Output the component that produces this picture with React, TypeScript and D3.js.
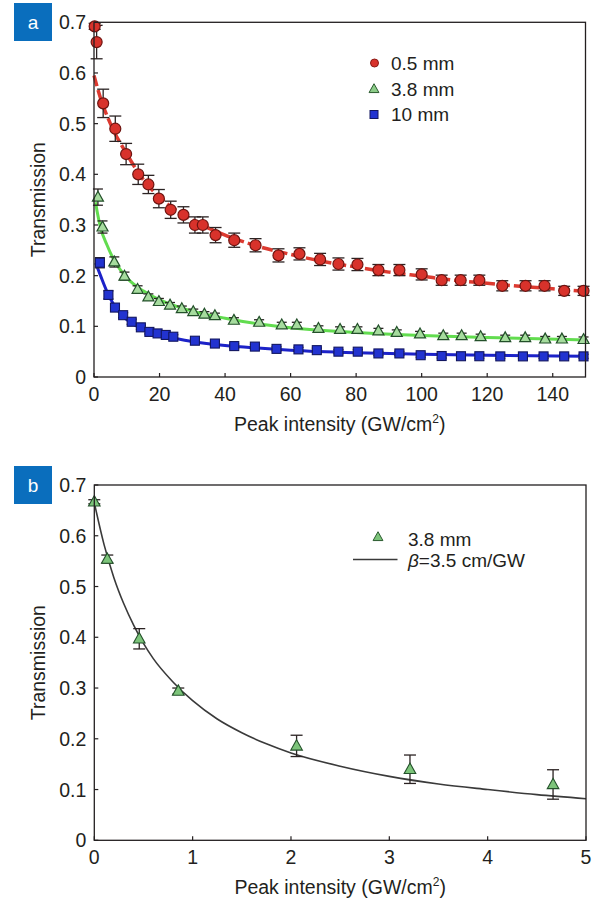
import React from "react";
import * as d3 from "d3";

// ---- Panel a: transmission vs. peak intensity for three sample lengths ----
const redX = [0.2, 0.8, 2.8, 6.5, 9.8, 13.5, 16.6, 19.8, 23.4, 27.3, 30.8, 33.2, 37.1, 42.8, 49.3, 56.3, 62.7, 69, 74.6, 80.4, 86.8, 93.2, 100, 106.1, 111.9, 117.6, 124.6, 131.7, 137.5, 143.5, 149.4];
const redY = [0.692, 0.661, 0.54, 0.49, 0.44, 0.4, 0.38, 0.352, 0.33, 0.32, 0.3, 0.3, 0.28, 0.27, 0.26, 0.24, 0.243, 0.232, 0.223, 0.222, 0.211, 0.211, 0.2025, 0.191, 0.191, 0.191, 0.18, 0.18, 0.18, 0.17, 0.17];
const redErr = [0.006, 0.033, 0.028, 0.025, 0.021, 0.02, 0.018, 0.018, 0.017, 0.016, 0.016, 0.016, 0.015, 0.014, 0.013, 0.013, 0.012, 0.012, 0.012, 0.012, 0.011, 0.011, 0.011, 0.01, 0.01, 0.01, 0.01, 0.01, 0.01, 0.009, 0.009];

const greenX = [1.2, 2.6, 6.2, 9.3, 13.3, 16.6, 19.8, 23.2, 26.8, 30.3, 33.7, 36.9, 42.7, 50.4, 57.3, 61.9, 68.5, 75.1, 80.4, 86.8, 92.4, 99.5, 106.6, 112.2, 118, 125.5, 131.6, 137.7, 142.8, 149.4];
const greenY = [0.355, 0.296, 0.227, 0.199, 0.173, 0.158, 0.149, 0.142, 0.135, 0.129, 0.124, 0.121, 0.112, 0.108, 0.103, 0.103, 0.096, 0.094, 0.094, 0.091, 0.088, 0.085, 0.0815, 0.0815, 0.0795, 0.0775, 0.0775, 0.075, 0.075, 0.074];
const greenErr = [0.016, 0.012, 0.01, 0.008, 0.007, 0.006, 0.006, 0.005, 0.005, 0.005, 0.005, 0.005, 0.005, 0.005, 0.005, 0.005, 0.005, 0.005, 0.005, 0.005, 0.005, 0.005, 0.005, 0.005, 0.005, 0.005, 0.005, 0.005, 0.005, 0.005];

const blueX = [1.8, 4.4, 6.4, 8.9, 11.5, 14.3, 16.9, 19.4, 21.9, 24.2, 30.8, 36.9, 42.8, 49.1, 55.7, 62.4, 68, 74.6, 80.5, 86.8, 93.2, 99.7, 106.1, 112, 117.6, 124, 130.9, 137.2, 143.5, 149.4];
const blueY = [0.2255, 0.162, 0.137, 0.122, 0.109, 0.098, 0.089, 0.086, 0.083, 0.0795, 0.0716, 0.066, 0.061, 0.06, 0.0555, 0.0545, 0.053, 0.05, 0.05, 0.0465, 0.0465, 0.043, 0.0414, 0.041, 0.041, 0.0407, 0.0407, 0.0407, 0.0407, 0.0407];
const blueErr = [0.01, 0.008, 0.006, 0.005, 0.005, 0.004, 0.004, 0.004, 0.004, 0.004, 0.004, 0.004, 0.004, 0.004, 0.004, 0.004, 0.004, 0.004, 0.004, 0.004, 0.004, 0.004, 0.004, 0.004, 0.004, 0.004, 0.004, 0.004, 0.004, 0.004];

// fitted curves (panel a)
const redFitX = [0, 2, 5, 10, 15, 20, 30, 40, 50, 60, 70, 80, 90, 100, 110, 120, 130, 140, 150];
const redFitY = [0.595, 0.55, 0.5, 0.44, 0.39, 0.355, 0.31, 0.28, 0.258, 0.242, 0.228, 0.217, 0.207, 0.199, 0.191, 0.185, 0.179, 0.174, 0.169];
const greenFitX = [0.5, 1, 2, 4, 6, 8, 10, 15, 20, 25, 30, 40, 50, 60, 80, 100, 120, 150];
const greenFitY = [0.345, 0.325, 0.295, 0.26, 0.232, 0.212, 0.196, 0.17, 0.152, 0.14, 0.13, 0.116, 0.105, 0.097, 0.088, 0.082, 0.078, 0.073];
const blueFitX = [0.5, 2, 4, 6, 8, 10, 15, 20, 25, 30, 40, 50, 60, 80, 100, 120, 150];
const blueFitY = [0.225, 0.2, 0.168, 0.143, 0.126, 0.113, 0.094, 0.083, 0.076, 0.07, 0.062, 0.057, 0.053, 0.048, 0.045, 0.043, 0.041];

// ---- Panel b: 3.8 mm sample at low intensity with fit ----
const bX = [0, 0.132, 0.457, 0.854, 2.057, 3.21, 4.665];
const bY = [0.667, 0.554, 0.397, 0.294, 0.186, 0.14, 0.11];
const bErr = [0.004, 0.008, 0.02, 0.006, 0.021, 0.028, 0.029];
const bFitX = [0, 0.1, 0.2, 0.3, 0.4, 0.5, 0.6, 0.8, 1, 1.25, 1.5, 1.75, 2, 2.5, 3, 3.5, 4, 4.5, 5];
const bFitY = [0.665, 0.582, 0.517, 0.466, 0.424, 0.388, 0.358, 0.312, 0.275, 0.239, 0.212, 0.19, 0.172, 0.146, 0.126, 0.111, 0.1, 0.09, 0.082];

const yTicks = [0, 0.1, 0.2, 0.3, 0.4, 0.5, 0.6, 0.7];
const aXTicks = [0, 20, 40, 60, 80, 100, 120, 140];
const bXTicks = [0, 1, 2, 3, 4, 5];

const FONT = "'Liberation Sans', Arial, Helvetica, sans-serif";
const INK = "#231f20";
const BADGE = "#0a6ebd";
const TICK_FS = 19.5;
const TITLE_FS = 19.5;
const LEGEND_FS = 19;

type Pt = { x: number; y: number; e: number };
const zip = (xs: number[], ys: number[], es: number[]): Pt[] => xs.map((x, i) => ({ x, y: ys[i], e: es[i] }));

function Frame({ x, y, xTicks, title }: { x: d3.ScaleLinear<number, number>; y: d3.ScaleLinear<number, number>; xTicks: number[]; title: string }) {
  const [x0, x1] = x.range();
  const [y0, y1] = y.range();
  return (
    <g fontFamily={FONT} fill={INK}>
      <rect x={x0} y={y1} width={x1 - x0} height={y0 - y1} fill="none" stroke={INK} strokeWidth={1.3} />
      {yTicks.map((t) => (
        <g key={"y" + t}>
          <line x1={x0} x2={x0 + 4} y1={y(t)} y2={y(t)} stroke={INK} strokeWidth={1.2} />
          <text x={x0 - 8} y={y(t)} dy="0.36em" textAnchor="end" fontSize={TICK_FS}>
            {t === 0 ? "0" : d3.format(".1f")(t)}
          </text>
        </g>
      ))}
      {xTicks.map((t) => (
        <g key={"x" + t}>
          <line x1={x(t)} x2={x(t)} y1={y0} y2={y0 - 4} stroke={INK} strokeWidth={1.2} />
          <text x={x(t)} y={y0 + 23.5} textAnchor="middle" fontSize={TICK_FS}>
            {t}
          </text>
        </g>
      ))}
      <text x={(x0 + x1) / 2} y={y0 + 53.5} textAnchor="middle" fontSize={TITLE_FS}>
        {title}
        <tspan dy={-7.5} fontSize={12}>2</tspan>
        <tspan dy={7.5}>)</tspan>
      </text>
      <text transform={`translate(45,${(y0 + y1) / 2}) rotate(-90)`} textAnchor="middle" fontSize={TITLE_FS}>
        Transmission
      </text>
    </g>
  );
}

function ErrBars({ pts, x, y, cap = 6 }: { pts: Pt[]; x: d3.ScaleLinear<number, number>; y: d3.ScaleLinear<number, number>; cap?: number }) {
  return (
    <g stroke="#2b2323" strokeWidth={1.3}>
      {pts.map((p, i) => {
        const cx = x(p.x);
        const top = y(p.y + p.e);
        const bot = y(p.y - p.e);
        return (
          <g key={i}>
            <line x1={cx} x2={cx} y1={top} y2={bot} />
            <line x1={cx - cap} x2={cx + cap} y1={top} y2={top} />
            <line x1={cx - cap} x2={cx + cap} y1={bot} y2={bot} />
          </g>
        );
      })}
    </g>
  );
}

const triPath = (s: number) => `M0,${-s * 0.62}L${s * 0.58},${s * 0.42}L${-s * 0.58},${s * 0.42}Z`;

function Badge({ label, y }: { label: string; y: number }) {
  return (
    <g>
      <rect x={14} y={y} width={38} height={38} fill={BADGE} />
      <text x={33} y={y + 19} dy="0.35em" textAnchor="middle" fill="#fff" fontSize={19} fontFamily={FONT}>
        {label}
      </text>
    </g>
  );
}

export default function App() {
  // Panel a scales
  const xa = d3.scaleLinear().domain([0, 150]).range([94, 585.5]);
  const ya = d3.scaleLinear().domain([0, 0.7]).range([377, 22.3]);
  // Panel b scales
  const xb = d3.scaleLinear().domain([0, 5]).range([94.3, 586]);
  const yb = d3.scaleLinear().domain([0, 0.7]).range([840.3, 485]);

  const lineA = d3
    .line<[number, number]>()
    .x((d) => xa(d[0]))
    .y((d) => ya(d[1]))
    .curve(d3.curveMonotoneX);
  const lineB = d3
    .line<[number, number]>()
    .x((d) => xb(d[0]))
    .y((d) => yb(d[1]))
    .curve(d3.curveMonotoneX);

  const redPts = zip(redX, redY, redErr);
  const greenPts = zip(greenX, greenY, greenErr);
  const bluePts = zip(blueX, blueY, blueErr);
  const bPts = zip(bX, bY, bErr);

  const pairs = (xs: number[], ys: number[]) => xs.map((v, i) => [v, ys[i]] as [number, number]);

  return (
    <svg width={593} height={899} style={{ position: "absolute", left: 0, top: 0, background: "#fff" }}>
      <rect width={593} height={899} fill="#fff" />

      {/* ---------- Panel a ---------- */}
      <Badge label="a" y={3} />
      <path d={lineA(pairs(greenFitX, greenFitY)) ?? ""} fill="none" stroke="#62dc4f" strokeWidth={3} />
      <path d={lineA(pairs(blueFitX, blueFitY)) ?? ""} fill="none" stroke="#1c22c8" strokeWidth={3} />
      <path d={lineA(pairs(redFitX, redFitY)) ?? ""} fill="none" stroke="#dc3a30" strokeWidth={3.5} strokeDasharray="11 4" />

      <ErrBars pts={redPts} x={xa} y={ya} />
      <ErrBars pts={greenPts} x={xa} y={ya} cap={5} />
      <ErrBars pts={bluePts} x={xa} y={ya} cap={5} />

      {redPts.map((p, i) => (
        <circle key={"r" + i} cx={xa(p.x)} cy={ya(p.y)} r={5.5} fill="#d8322b" stroke="#6e1410" strokeWidth={1.2} />
      ))}
      {greenPts.map((p, i) => (
        <path key={"g" + i} d={triPath(9.5)} transform={`translate(${xa(p.x)},${ya(p.y)})`} fill="#a6dc9e" stroke="#23502a" strokeWidth={1.2} />
      ))}
      {bluePts.map((p, i) => (
        <rect key={"b" + i} x={xa(p.x) - 4.5} y={ya(p.y) - 4.5} width={9} height={9} fill="#2233d0" stroke="#121660" strokeWidth={1.1} />
      ))}

      <Frame x={xa} y={ya} xTicks={aXTicks} title="Peak intensity (GW/cm" />

      {/* legend a */}
      <g fontFamily={FONT} fontSize={LEGEND_FS} fill={INK}>
        <circle cx={374.5} cy={63} r={4} fill="#d8322b" stroke="#8a1a14" strokeWidth={1} />
        <text x={391} y={69.5}>0.5 mm</text>
        <path d={triPath(8.5)} transform="translate(374,89)" fill="#8ccc88" stroke="#2a5a2e" strokeWidth={1} />
        <text x={391} y={95.5}>3.8 mm</text>
        <rect x={370} y={110.5} width={8} height={8} fill="#2233d0" stroke="#121660" strokeWidth={1} />
        <text x={391} y={121}>10 mm</text>
      </g>

      {/* ---------- Panel b ---------- */}
      <Badge label="b" y={466} />
      <path d={lineB(pairs(bFitX, bFitY)) ?? ""} fill="none" stroke="#3a3a3a" strokeWidth={1.6} />
      <ErrBars pts={bPts} x={xb} y={yb} cap={6} />
      {bPts.map((p, i) => (
        <path key={"bb" + i} d={triPath(10)} transform={`translate(${xb(p.x)},${yb(p.y)})`} fill="#7cc47a" stroke="#23502a" strokeWidth={1.1} />
      ))}

      <Frame x={xb} y={yb} xTicks={bXTicks} title="Peak intensity (GW/cm" />

      {/* legend b */}
      <g fontFamily={FONT} fontSize={LEGEND_FS} fill={INK}>
        <path d={triPath(8.5)} transform="translate(378,537)" fill="#7cc47a" stroke="#2a5a2e" strokeWidth={1} />
        <text x={408} y={546}>3.8 mm</text>
        <line x1={353} x2={397.5} y1={559.5} y2={559.5} stroke="#3a3a3a" strokeWidth={1.6} />
        <text x={408} y={566.5}>
          <tspan fontStyle="italic">β</tspan>=3.5 cm/GW
        </text>
      </g>
    </svg>
  );
}
